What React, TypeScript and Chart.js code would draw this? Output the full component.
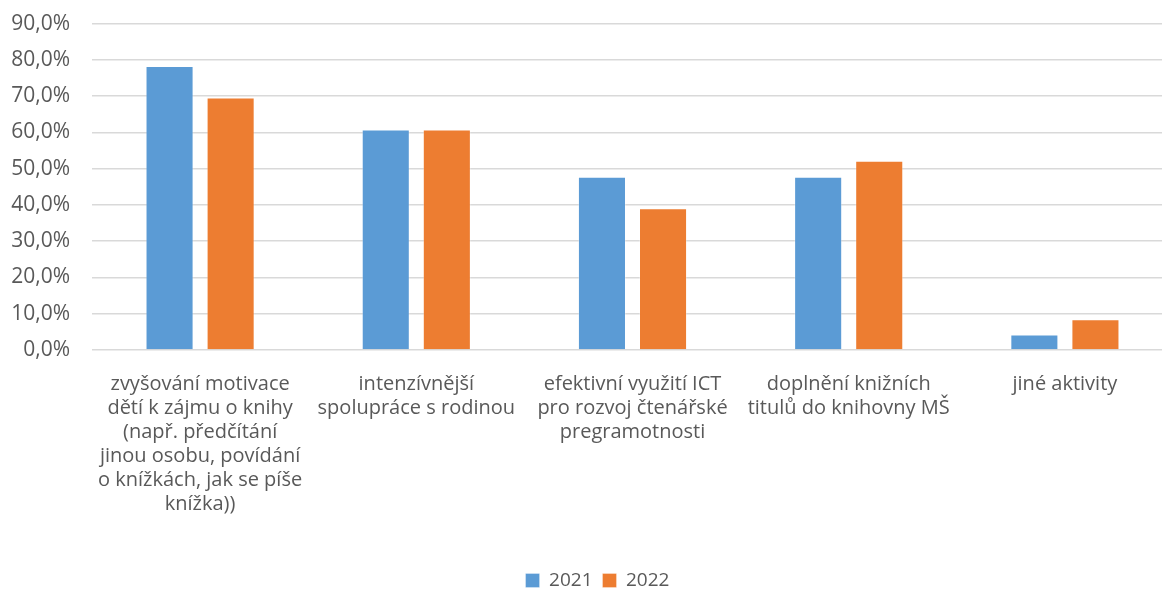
import React, { useEffect, useRef } from "react";
import { Chart, registerables } from "chart.js";

Chart.register(...registerables);

const categories: string[][] = [
  ["zvyšování motivace", "dětí k zájmu o knihy", "(např. předčítání", "jinou osobu, povídání", "o knížkách, jak se píše", "knížka))"],
  ["intenzívnější", "spolupráce s rodinou"],
  ["efektivní využití ICT", "pro rozvoj čtenářské", "pregramotnosti"],
  ["doplnění knižních", "titulů do knihovny MŠ"],
  ["jiné aktivity"],
];
const series2021: number[] = [78.3, 60.8, 47.8, 47.8, 4.3];
const series2022: number[] = [69.6, 60.8, 39.1, 52.2, 8.5];
const seriesNames: string[] = ["2021", "2022"];

const FONT = "'Open Sans', 'Noto Sans', sans-serif";
const TEXT = "#595959";
const CW = 1175;
const CH = 611;
const OFFSET_TOP = -11;
const LEGEND_SHIFT = 11;

const shiftLegend = {
  id: "shiftLegend",
  afterLayout(chart: any) {
    if (chart.legend) {
      chart.legend.left += LEGEND_SHIFT;
      chart.legend.right += LEGEND_SHIFT;
    }
  },
};

export default function App() {
  const ref = useRef<HTMLCanvasElement | null>(null);
  useEffect(() => {
    document.body.style.margin = "0";
    const ctx = ref.current!.getContext("2d")!;
    const chart = new Chart(ctx, {
      type: "bar",
      data: {
        labels: categories,
        datasets: [
          { label: seriesNames[0], data: series2021, backgroundColor: "#5B9BD5", borderColor: "rgba(255,255,255,0.3)", borderWidth: 1, categoryPercentage: 0.565, barPercentage: 0.787 },
          { label: seriesNames[1], data: series2022, backgroundColor: "#ED7D31", borderColor: "rgba(255,255,255,0.3)", borderWidth: 1, categoryPercentage: 0.565, barPercentage: 0.787 },
        ],
      },
      plugins: [shiftLegend],
      options: {
        animation: false,
        responsive: false,
        maintainAspectRatio: false,
        layout: { padding: { top: 1, left: 0, right: 2, bottom: 0 } },
        plugins: {
          tooltip: { enabled: false },
          legend: {
            position: "bottom",
            labels: {
              boxWidth: 14,
              boxHeight: 14,
              padding: 10,
              color: TEXT,
              font: { family: FONT, size: 19 },
            },
          },
        },
        scales: {
          x: {
            grid: { display: false, drawTicks: false },
            border: { display: false },
            ticks: {
              color: TEXT,
              font: { family: FONT, size: 20, lineHeight: 24 / 20 },
              padding: 22,
              maxRotation: 0,
              autoSkip: false,
            },
            afterFit: (scale: any) => {
              scale.height = 211;
            },
          },
          y: {
            min: 0,
            max: 90,
            grid: { color: "#D9D9D9", lineWidth: 1.5, drawTicks: false },
            border: { display: false },
            ticks: {
              stepSize: 10,
              color: TEXT,
              font: { family: FONT, size: 21 },
              padding: 22,
              callback: (v: any) => Number(v).toFixed(1).replace(".", ",") + "%",
            },
            afterFit: (scale: any) => {
              scale.width = 92;
            },
          },
        },
      },
    });
    return () => chart.destroy();
  }, []);
  return (
    <div style={{ position: "absolute", left: 0, top: 0, width: 1162, height: 589, overflow: "hidden", background: "#fff" }}>
      <canvas ref={ref} width={CW} height={CH} style={{ width: CW, height: CH, display: "block", marginTop: OFFSET_TOP }} />
    </div>
  );
}
